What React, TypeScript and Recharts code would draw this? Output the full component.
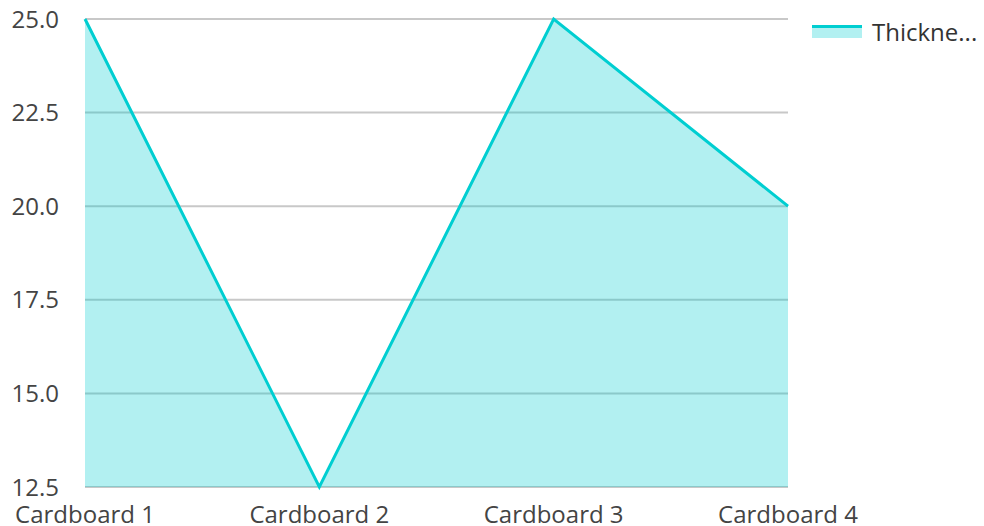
import { AreaChart, Area, XAxis, YAxis, CartesianGrid, Legend } from "recharts";

const categories = ["Cardboard 1", "Cardboard 2", "Cardboard 3", "Cardboard 4"];
const thickness = [25, 12.5, 25, 20];
const yTicks = [12.5, 15, 17.5, 20, 22.5, 25];
const seriesName = "Thickness";

const data = categories.map((name, i) => ({ name, thickness: thickness[i] }));

const TEAL = "#00CED1";
const TEXT = "#444444";

function truncate(s: string, n: number) {
  return s.length > n ? s.slice(0, n) + "..." : s;
}

function ThicknessLegend() {
  return (
    <div style={{ display: "flex", alignItems: "center", fontSize: 24, color: "#333" }}>
      <span style={{ position: "relative", display: "inline-block", width: 50, height: 14, marginRight: 10 }}>
        <span style={{ position: "absolute", left: 0, top: 0, width: 50, height: 3, background: TEAL }} />
        <span
          style={{ position: "absolute", left: 0, top: 3, width: 50, height: 10, background: TEAL, opacity: 0.3 }}
        />
      </span>
      <span>{truncate(seriesName, 7)}</span>
    </div>
  );
}

export default function App() {
  return (
    <div style={{ position: "absolute", top: 0, left: 0, fontFamily: "'Open Sans', sans-serif" }}>
      <AreaChart width={984} height={526} data={data} margin={{ top: 19, right: 196, left: 0, bottom: 0 }}>
        <CartesianGrid vertical={false} stroke="#c8c8c8" strokeWidth={2} />
        <XAxis
          dataKey="name"
          interval={0}
          tickLine={false}
          axisLine={false}
          height={39}
          tickMargin={13}
          tick={{ fontSize: 24, fill: TEXT }}
        />
        <YAxis
          domain={[12.5, 25]}
          ticks={yTicks}
          tickFormatter={(v) => Number(v).toFixed(1)}
          width={85}
          tickLine={false}
          axisLine={false}
          tickMargin={20}
          tick={{ fontSize: 24, fill: TEXT }}
        />
        <Legend
          layout="horizontal"
          verticalAlign="middle"
          align="center"
          wrapperStyle={{ top: 15, left: 812, width: "auto" }}
          content={() => <ThicknessLegend />}
        />
        <Area
          type="linear"
          dataKey="thickness"
          name={seriesName}
          stroke={TEAL}
          strokeWidth={3}
          fill={TEAL}
          fillOpacity={0.3}
          dot={false}
          isAnimationActive={false}
        />
      </AreaChart>
    </div>
  );
}
